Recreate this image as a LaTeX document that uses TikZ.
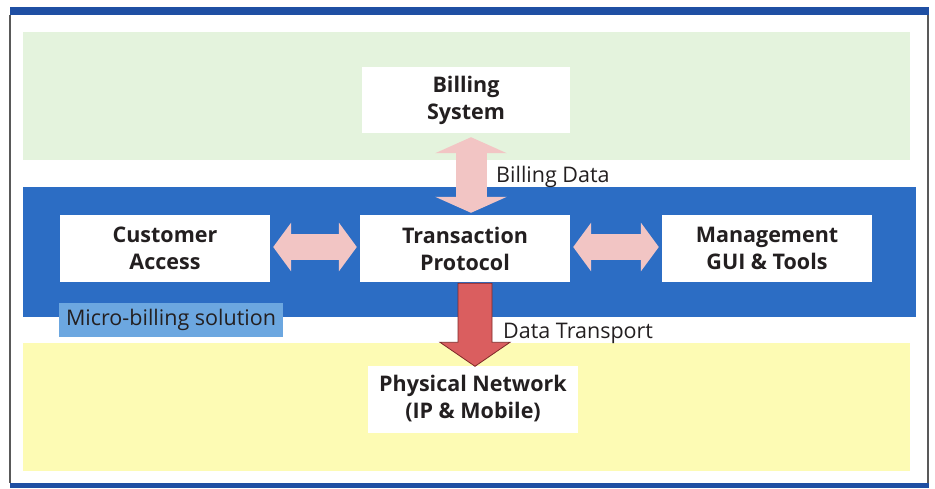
\documentclass[tikz,border=0pt]{standalone}
\usepackage{fontspec}
\setmainfont{Open Sans}
\usepackage{tikz}
\usetikzlibrary{arrows.meta}
\usetikzlibrary{calc}

\definecolor{framebar}{HTML}{1F4FA3}
\definecolor{greenband}{HTML}{E4F3DD}
\definecolor{blueband}{HTML}{2C6DC4}
\definecolor{yellowband}{HTML}{FDFBB4}
\definecolor{pinkarrow}{HTML}{F2C5C4}
\definecolor{redfill}{HTML}{DA5E5F}
\definecolor{redline}{HTML}{7E2828}
\definecolor{microfill}{HTML}{6CA7E0}
\definecolor{inktext}{HTML}{231F20}

\begin{document}
\begin{tikzpicture}[x=1pt, y=-1pt,
		layerbox/.style={fill=white, minimum width=210pt, minimum height=67pt, inner sep=0pt,
			align=center, text=inktext, font=\fontsize{21.5}{27}\selectfont\bfseries},
		flowlabel/.style={anchor=base west, inner sep=0pt, text=inktext, font=\fontsize{21.5}{25}\selectfont},
		pinkflow/.style={pinkarrow, line width=#1},
		redarrow/.style={fill=redfill, draw=redline, line width=0.8pt, line join=miter}]
		\useasboundingbox (0,0) rectangle (935,488);
		
		\fill[framebar] (10,7) rectangle (929,15);
		\fill[framebar] (10,483) rectangle (929,488);
		\draw[gray!70!black, line width=1.5pt] (10,15) -- (10,483);
		\draw[gray!70!black, line width=1.5pt] (928,15) -- (928,483);
		
		\fill[greenband] (23,32) rectangle (910,160);
		\fill[blueband] (23,187) rectangle (916,317);
		\fill[yellowband] (23,343) rectangle (910,471);
		
		\node[layerbox, minimum width=208pt, minimum height=66pt] (bill) at (466,100) {Billing\\System};
		\node[layerbox] (cust) at (165,248.5) {Customer\\Access};
		\node[layerbox] (trans) at (465,248.5) {Transaction\\Protocol};
		\node[layerbox] (mgmt) at (767,248.5) {Management\\GUI \& Tools};
		\node[layerbox] (phys) at (473,399) {Physical Network\\(IP \& Mobile)};
		
		\node[fill=microfill, minimum width=224pt, minimum height=34pt, inner sep=0pt,
			text=inktext, font=\fontsize{21.5}{25}\selectfont] (micro) at (171,320) {Micro-billing solution};
		
		\draw[pinkflow=31pt, {Triangle[width=71pt,length=16pt]}-{Triangle[width=71pt,length=16pt]}]
			([shift={(5,4)}]bill.south) -- ([shift={(5,-2)}]bill.south |- trans.north);
		\draw[pinkflow=26pt, {Triangle[width=48pt,length=18pt]}-{Triangle[width=48pt,length=18pt]}]
			([shift={(3,-1.5)}]cust.east) -- ([shift={(-3,-1.5)}]trans.west);
		\draw[pinkflow=26pt, {Triangle[width=48pt,length=18pt]}-{Triangle[width=48pt,length=18pt]}]
			([shift={(3,-1.5)}]trans.east) -- ([shift={(-3,-1.5)}]mgmt.west);
		
		\coordinate (rtip) at ([shift={(2,1)}]phys.north);
		\draw[redarrow] (rtip) -- ++(-35,-24) -- ++(18,0) coordinate (ra)
			-- ([yshift=-1pt]ra |- trans.south) -- ++(34,0) coordinate (rb)
			-- (rb |- ra) -- ++(18,0) -- cycle;
		
		\node[flowlabel] (billdata) at (496,182) {Billing Data};
		\node[flowlabel] (transport) at (503,338) {Data Transport};
	\end{tikzpicture}
\end{document}
